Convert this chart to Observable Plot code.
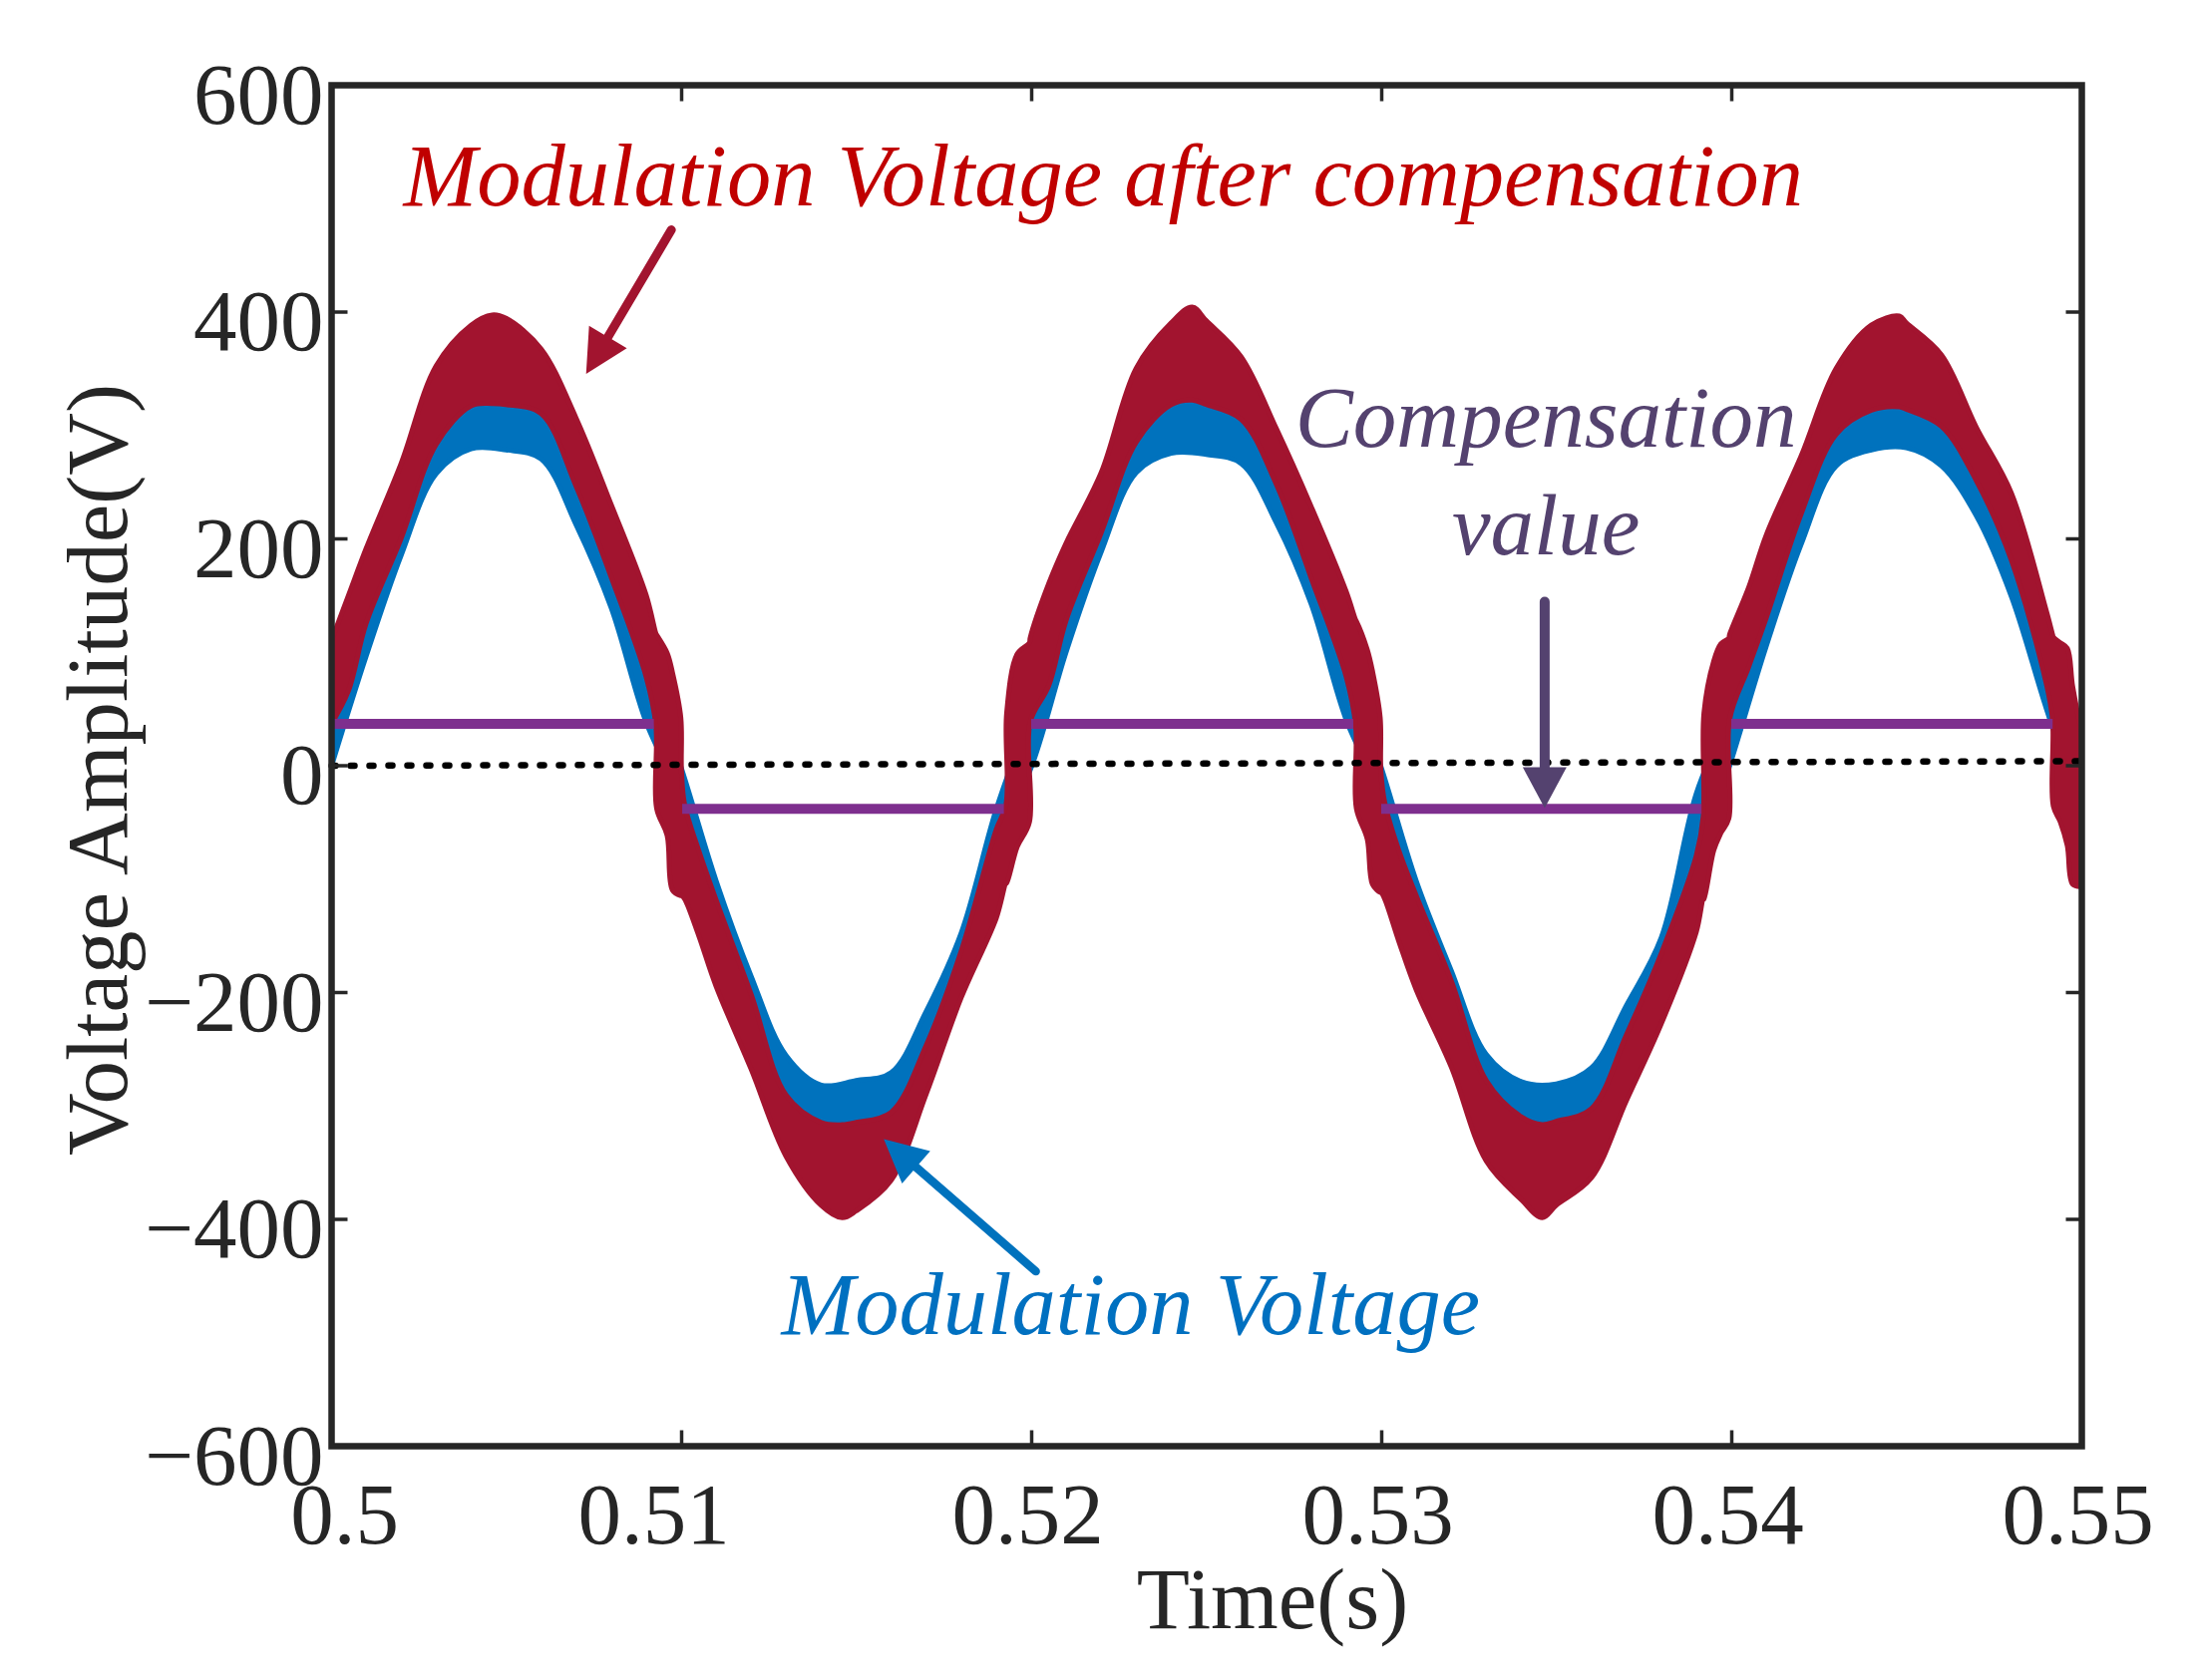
<!DOCTYPE html>
<html>
<head>
<meta charset="utf-8">
<script src="https://cdn.jsdelivr.net/npm/d3@7"></script>
<script src="https://cdn.jsdelivr.net/npm/@observablehq/plot@0.6"></script>
<style>
  html, body { margin: 0; padding: 0; background: #fff; overflow: hidden; }
  #chart svg { display: block; }
</style>
</head>
<body>
<div id="chart"></div>
<script>
// ---------- tick values / labels ----------
const xTicks = [0.5, 0.51, 0.52, 0.53, 0.54, 0.55];
const xTickLabels = ["0.5", "0.51", "0.52", "0.53", "0.54", "0.55"];
const yTicks = [600, 400, 200, 0, -200, -400, -600];
const yTickLabels = ["600", "400", "200", "0", "\u2212200", "\u2212400", "\u2212600"];

// ---------- Modulation Voltage (blue band), time in ms after 0.5 s ----------
const blueTimeMs = [0,1,2,3,4,5,6,7,8,9,10,11,12,13,14,15,16,17,18,19,20,21,22,23,24,25,26,27,28,29,30,31,32,33,34,35,36,37,38,39,40,41,42,43,44,45,46,47,48,49,50];
const blueLow  = [-2,96,185,257,279,278,270,212,139,38,-30,-131,-214,-303,-327,-327,-318,-259,-176,-69,-2,100,188,258,275,274,266,214,142,40,-28,-127,-202,-290,-322,-326,-315,-250,-178,-92,4,105,195,264,278,280,264,220,149,50,-40];
const blueHigh = [46,135,210,293,327,328,320,256,176,88,-2,-102,-186,-256,-282,-278,-271,-217,-148,-39,48,138,215,295,328,328,315,258,175,88,-2,-102,-181,-255,-279,-281,-267,-212,-152,-25,50,140,232,302,323,324,309,261,191,82,0];

// ---------- Modulation Voltage after compensation (red band) ----------
const redTimeMs = [0,0.5,1,2,3,4,4.6,5,6,7,8,9,9.28,9.3,9.6,9.75,9.99,10.01,10.1,10.5,11,12,13,14,14.6,15,16,17,18,19,19.28,19.3,19.6,19.95,19.97,
  20.5,21,22,23,24,24.6,25,26,27,28,29,29.27,29.29,29.6,29.75,29.97,29.99,30.1,30.5,31,32,33,34,34.6,35,36,37,38,39,39.2,39.22,39.5,39.7,39.93,39.95,
  40.5,41,42,43,44,44.8,45,46,47,48,49,49.18,49.2,49.4,49.6,49.75,50];
const redLow  = [36,66,125,200,283,317,319,318,310,246,166,78,35,-38,-62,-110,-115,-115,-118,-150,-195,-268,-345,-388,-399,-393,-366,-290,-205,-135,-104,-104,-72,-50,38,
  70,128,205,285,318,322,318,305,248,165,78,35,-38,-65,-105,-112,-112,-118,-155,-198,-266,-349,-383,-399,-388,-364,-296,-228,-147,-118,-118,-75,-60,-47,40,
  87,130,222,292,313,316,314,299,251,181,72,40,-36,-50,-71,-105,-107];
const redHigh = [109,150,191,266,352,388,397,394,367,306,230,150,116,115,99,82,42,-5,-35,-75,-119,-202,-291,-315,-317,-315,-306,-247,-164,-57,-35,46,98,108,112,
  160,196,258,350,390,404,392,360,297,228,153,128,127,102,83,42,-5,-33,-75,-115,-190,-278,-310,-317,-314,-303,-238,-166,-80,-45,46,92,107,112,115,
  157,203,273,350,388,396,390,362,298,240,136,115,113,108,103,70,30];

// ---------- Compensation value (purple segments) ----------
const compStartMs = [0, 10.03, 20.0, 30.0, 40.0];
const compEndMs   = [9.22, 19.22, 29.2, 39.15, 49.18];
const compValue   = [37, -38, 37, -38, 37];

// ---------- dotted reference line ----------
const refTime = [0.5, 0.55];
const refValue = [0, 4];

// ---------- annotations ----------
const arrows = [
  {t1: 0.509706, v1: 472.5, t2: 0.507271, v2: 345.5, color: "#A2142F", shaft: 9, headLen: 43, headWidth: 44},
  {t1: 0.520117, v1: -445.8, t2: 0.515775, v2: -329.2, color: "#0072BD", shaft: 8.5, headLen: 43, headWidth: 43},
  {t1: 0.534655, v1: 144.6, t2: 0.534655, v2: -37.4, color: "#54426F", shaft: 10, headLen: 41, headWidth: 44}
];
const startNotes = [
  {t: 0.50205, v: 494.5, s: "Modulation Voltage after compensation", color: "#C00000"},
  {t: 0.51285, v: -501.5, s: "Modulation Voltage", color: "#0070C0"}
];
const middleNotes = [
  {t: 0.53469, v: 280.9, s: "Compensation", color: "#54426F"},
  {t: 0.53469, v: 186.8, s: "value", color: "#54426F"}
];

// ---------- build tables ----------
const blueRows = blueTimeMs.map((ms, i) => ({t: 0.5 + ms / 1000, lo: blueLow[i], hi: blueHigh[i]}));
const redRows = redTimeMs.map((ms, i) => ({t: 0.5 + ms / 1000, lo: redLow[i], hi: redHigh[i]}));
const compRows = compStartMs.map((s, i) => ({t1: 0.5 + s / 1000, t2: 0.5 + compEndMs[i] / 1000, v: compValue[i]}));
const refRows = refTime.map((t, i) => ({t, v: refValue[i]}));

// ---------- layout ----------
const W = 2204, H = 1685;
const ML = 332, MR = W - 2087, MT = 85, MB = H - 1450;
const FONT = '"Liberation Serif", "Times New Roman", Times, serif';
const AXIS = "#262626";
const FS = 87;

const xs = d3.scaleLinear([0.5, 0.55], [ML, W - MR]);
const ys = d3.scaleLinear([-600, 600], [H - MB, MT]);

function arrowMark(a) {
  const dx = xs(a.t2) - xs(a.t1), dy = ys(a.v2) - ys(a.v1);
  const len = Math.hypot(dx, dy);
  const rot = Math.atan2(dx, -dy) * 180 / Math.PI;
  const shape = {
    draw(ctx, l) {
      const w = a.shaft / 2, hl = a.headLen, hw = a.headWidth / 2;
      ctx.moveTo(-w, hl - l);
      ctx.lineTo(-w, 0);
      ctx.arc(0, 0, w, Math.PI, 0, true);
      ctx.lineTo(w, hl - l);
      ctx.lineTo(hw, hl - l);
      ctx.lineTo(0, -l);
      ctx.lineTo(-hw, hl - l);
      ctx.closePath();
    }
  };
  return Plot.vector([a], {x: "t2", y: "v2", length: len, rotate: rot, anchor: "end", shape, fill: a.color, stroke: "none"});
}

const tickShape = {draw(ctx, l) { ctx.moveTo(0, 0); ctx.lineTo(0, -l); }};
const tickOpts = {length: 16, anchor: "start", shape: tickShape, stroke: AXIS, strokeWidth: 3.5, strokeLinecap: "butt"};

const xLabelMain = xTicks.map((d, i) => ({x: d, s: xTickLabels[i]}));

const chart = Plot.plot({
  width: W, height: H,
  marginLeft: ML, marginRight: MR, marginTop: MT, marginBottom: MB,
  x: {domain: [0.5, 0.55], axis: null},
  y: {domain: [-600, 600], axis: null},
  style: {fontFamily: FONT, background: "white", overflow: "visible"},
  marks: [
    Plot.areaY(blueRows, {x: "t", y1: "lo", y2: "hi", fill: "#0072BD", stroke: "#0072BD", strokeWidth: 5, strokeLinejoin: "round", curve: "catmull-rom", clip: true}),
    Plot.areaY(redRows, {x: "t", y1: "lo", y2: "hi", fill: "#A2142F", stroke: "#A2142F", strokeWidth: 5, strokeLinejoin: "round", curve: "catmull-rom", clip: true}),
    Plot.ruleY(compRows, {y: "v", x1: "t1", x2: "t2", stroke: "#7E2F8E", strokeWidth: 10}),
    Plot.line(refRows, {x: "t", y: "v", stroke: "#000", strokeWidth: 6.5, strokeDasharray: "4,15", strokeLinecap: "round"}),
    ...arrows.map(arrowMark),
    Plot.text(startNotes, {x: "t", y: "v", text: "s", fill: d => d.color, textAnchor: "start", lineAnchor: "bottom",
      fontStyle: "italic", fontSize: 88.5}),
    Plot.text(middleNotes, {x: "t", y: "v", text: "s", fill: d => d.color, textAnchor: "middle", lineAnchor: "bottom",
      fontStyle: "italic", fontSize: FS}),
    // tick labels
    Plot.text(xLabelMain.filter(d => d.x === 0.5), {x: "x", y: () => -600, text: "s", dy: 97, dx: 13, lineAnchor: "bottom", textAnchor: "middle", fontSize: FS, fill: AXIS}),
    Plot.text(xLabelMain.filter(d => d.x === 0.51), {x: "x", y: () => -600, text: "s", dy: 97, dx: -28, lineAnchor: "bottom", textAnchor: "middle", fontSize: FS, fill: AXIS}),
    Plot.text(xLabelMain.filter(d => d.x > 0.511), {x: "x", y: () => -600, text: "s", dy: 97, dx: -4, lineAnchor: "bottom", textAnchor: "middle", fontSize: FS, fill: AXIS}),
    Plot.text(yTicks, {x: () => 0.5, y: d => d, text: (d, i) => yTickLabels[i], textAnchor: "end", dx: -8, dy: 38, lineAnchor: "bottom", fontSize: FS, fill: AXIS}),
    // axis titles
    Plot.text(["Time(s)"], {text: d => d, frameAnchor: "bottom", textAnchor: "middle", dx: 66, dy: 182, lineAnchor: "bottom", fontSize: FS, fill: AXIS}),
    Plot.text(["Voltage Amplitude(V)"], {text: d => d, frameAnchor: "left", textAnchor: "middle", rotate: -90, dx: -206, dy: 4, lineAnchor: "bottom", fontSize: FS, fill: AXIS}),
    // frame and inward ticks
    Plot.frame({stroke: AXIS, strokeWidth: 6.5}),
    Plot.vector(xTicks, {x: d => d, y: () => -600, rotate: 0, ...tickOpts}),
    Plot.vector(xTicks, {x: d => d, y: () => 600, rotate: 180, ...tickOpts}),
    Plot.vector(yTicks, {x: () => 0.5, y: d => d, rotate: 90, ...tickOpts}),
    Plot.vector(yTicks, {x: () => 0.55, y: d => d, rotate: -90, ...tickOpts})
  ]
});
document.getElementById("chart").appendChild(chart);
</script>
</body>
</html>
